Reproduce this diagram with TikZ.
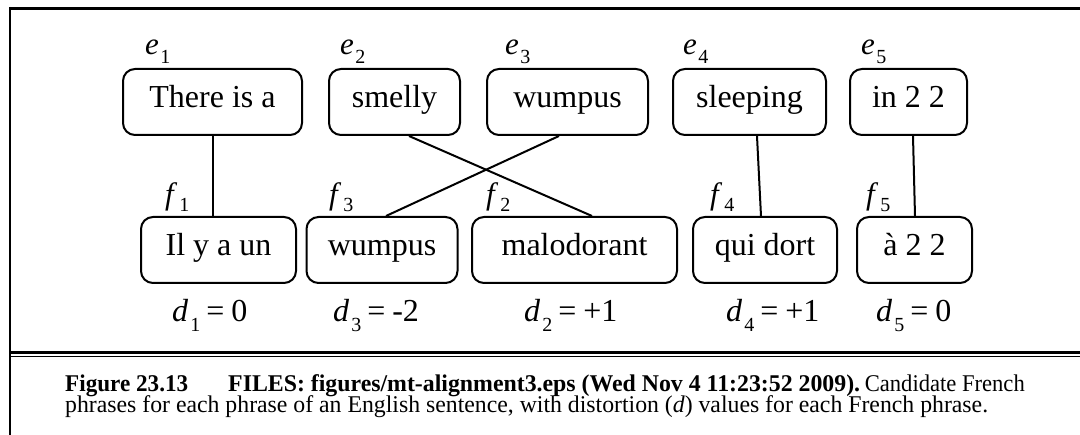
\documentclass[tikz,border=0pt]{standalone}
\usepackage{fontspec}
\usepackage{graphicx}
\setmainfont{Liberation Serif}
\usetikzlibrary{calc}
\newcommand\sublab[4][9pt]{\textit{#2}\kern#4\raisebox{-#1}{\fontsize{20}{20}\selectfont #3}}
\newcommand\dlabtext[2]{\sublab[10pt]{d}{#1}{2pt}\kern6pt=\kern7pt#2}
\begin{document}
\begin{tikzpicture}[x=1pt,y=-1pt,
  phrase/.style={draw, line width=2pt, rounded corners=12pt, minimum height=66pt,
    inner sep=0pt, text height=22pt, text depth=10pt, font=\fontsize{32}{36}\selectfont},
  link/.style={line width=2pt},
  lab/.style={anchor=base west, inner sep=0pt, font=\fontsize{31}{34}\selectfont},
  dlab/.style={anchor=base west, inner sep=0pt, font=\fontsize{32}{36}\selectfont},
  captext/.style={inner sep=0pt, font=\fontsize{24}{26}\selectfont},
  captextb/.style={captext, font=\bfseries\fontsize{24}{26}\selectfont}]
\useasboundingbox (0,0) rectangle (1080,435);
\fill[white] (0,0) rectangle (1080,435);
% frame
\draw[line width=3pt] (9,8.3) -- (1080,8.3);
\draw[line width=2.3pt] (10,7) -- (10,435);
\draw[line width=3pt] (10,353) -- (1080,353);
\draw[line width=1.5pt] (10,356.5) -- (1080,356.5);
% English phrases
\node[phrase, minimum width=179pt] (e1) at (212.5,102) {There is a};
\node[phrase, minimum width=131pt] (e2) at (394.5,102) {smelly};
\node[phrase, minimum width=161pt] (e3) at (567.5,102) {wumpus};
\node[phrase, minimum width=153pt] (e4) at (749.5,102) {sleeping};
\node[phrase, minimum width=117pt] (e5) at (908.5,102) {in 2 2};
% French phrases
\node[phrase, minimum width=155pt] (f1) at (218.5,250) {Il y a un};
\node[phrase, minimum width=151pt] (f3) at (382,250) {wumpus};
\node[phrase, minimum width=205pt] (f2) at (574.5,250) {malodorant};
\node[phrase, minimum width=144pt] (f4) at (765,250) {qui dort};
\node[phrase, minimum width=115pt] (f5) at (914.5,250) {à 2 2};
% connectors
\draw[link] (e1.south) -- (e1.south |- f1.north);
\draw[link] ($(e2.south)+(14.5,0)$) -- ($(f2.north)+(17.5,0)$);
\draw[link] ($(e3.south)+(-8.5,0)$) -- ($(f3.north)+(4,0)$);
\draw[link] ($(e4.south)+(7.5,0)$) -- ($(f4.north)+(-4,0)$);
\draw[link] ($(e5.south)+(4.5,0)$) -- ($(f5.north)+(0.5,0)$);
% e labels
\node[lab] (le1) at (145,55) {\sublab{e}{1}{1.5pt}};
\node[lab] (le2) at (340,55) {\sublab{e}{2}{1.5pt}};
\node[lab] (le3) at (505,55) {\sublab{e}{3}{1.5pt}};
\node[lab] (le4) at (683,55) {\sublab{e}{4}{1.5pt}};
\node[lab] (le5) at (861,55) {\sublab{e}{5}{1.5pt}};
% f labels
\node[lab] (lf1) at (165,205) {\sublab[7pt]{f}{1}{2pt}};
\node[lab] (lf3) at (329,205) {\sublab[7pt]{f}{3}{2pt}};
\node[lab] (lf2) at (486,205) {\sublab[7pt]{f}{2}{2pt}};
\node[lab] (lf4) at (710,205) {\sublab[7pt]{f}{4}{2pt}};
\node[lab] (lf5) at (866,205) {\sublab[7pt]{f}{5}{2pt}};
% d labels
\node[dlab] (d1) at (172,322) {\dlabtext{1}{0}};
\node[dlab] (d3) at (333,322) {\dlabtext{3}{-2}};
\node[dlab] (d2) at (524,322) {\dlabtext{2}{+1}};
\node[dlab] (d4) at (726,322) {\dlabtext{4}{+1}};
\node[dlab] (d5) at (876,322) {\dlabtext{5}{0}};
% caption
\node[captextb, anchor=base west] (c1) at (65,392) {\resizebox{123pt}{\height}{Figure 23.13}};
\node[captextb, anchor=base west] (c2) at (228,392) {\resizebox{632pt}{\height}{FILES: figures/mt-alignment3.eps (Wed Nov 4 11:23:52 2009).}};
\node[captext, anchor=base east] (c3) at (1025,392) {\resizebox{160pt}{\height}{Candidate French}};
\node[captext, anchor=base west] (c4) at (65,413) {\resizebox{923pt}{\height}{phrases for each phrase of an English sentence, with distortion (\textit{d}) values for each French phrase.}};
\end{tikzpicture}
\end{document}
